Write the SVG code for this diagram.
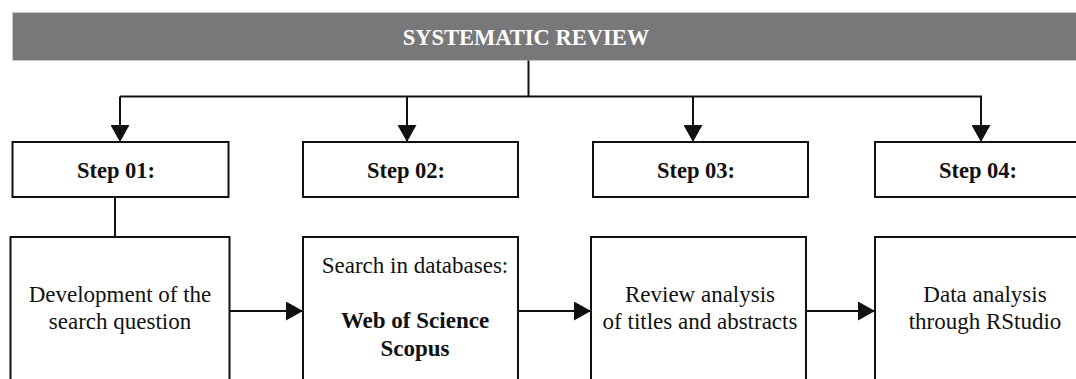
<svg xmlns="http://www.w3.org/2000/svg" width="1076" height="379" viewBox="0 0 1076 379">
  <style>
    .box { fill: #ffffff; stroke: #111111; stroke-width: 2; }
    .wire { fill: none; stroke: #111111; stroke-width: 2; }
    text { font-family: 'Liberation Serif', Tinos, 'Times New Roman', 'Nimbus Roman', 'DejaVu Serif', serif; text-anchor: middle; }
    .title { font-size: 22.5px; font-weight: bold; fill: #ffffff; }
    .step { font-size: 22.5px; font-weight: bold; fill: #111111; }
    .body { font-size: 23px; fill: #111111; }
    .body-b { font-size: 23px; font-weight: bold; fill: #111111; }
  </style>
  <defs>
    <marker id="arrow" markerUnits="userSpaceOnUse" markerWidth="18" markerHeight="19" refX="17" refY="9.5" orient="auto">
      <path d="M0,0 L17,9.5 L0,19 Z" fill="#111111"/>
    </marker>
  </defs>

  <rect width="1076" height="379" fill="#ffffff"/>

  <!-- header banner -->
  <g id="header">
    <rect x="12.5" y="12.5" width="1080" height="48" fill="#78787a" stroke="#c9c9c9" stroke-width="1"/>
    <text class="title" x="526" y="45" font-family="Liberation Serif, serif">SYSTEMATIC REVIEW</text>
  </g>

  <!-- connectors -->
  <g id="connectors">
    <path class="wire" d="M528.5,60.5 V96.5 M120,96.5 H982"/>
    <path class="wire" d="M120,96.5 V142" marker-end="url(#arrow)"/>
    <path class="wire" d="M407,96.5 V142" marker-end="url(#arrow)"/>
    <path class="wire" d="M693,96.5 V142" marker-end="url(#arrow)"/>
    <path class="wire" d="M981,96.5 V142" marker-end="url(#arrow)"/>
    <path class="wire" d="M115,197 V237"/>
    <path class="wire" d="M230,311 H303" marker-end="url(#arrow)"/>
    <path class="wire" d="M518,311 H591" marker-end="url(#arrow)"/>
    <path class="wire" d="M806,311 H875" marker-end="url(#arrow)"/>
  </g>

  <!-- step headers -->
  <g id="step01">
    <rect class="box" x="12.5" y="142" width="216" height="55"/>
    <text class="step" x="116" y="178">Step 01:</text>
  </g>
  <g id="step02">
    <rect class="box" x="303" y="142" width="215" height="55"/>
    <text class="step" x="406" y="178">Step 02:</text>
  </g>
  <g id="step03">
    <rect class="box" x="593" y="142" width="215" height="55"/>
    <text class="step" x="696" y="178">Step 03:</text>
  </g>
  <g id="step04">
    <rect class="box" x="875" y="142" width="220" height="55"/>
    <text class="step" x="978" y="178">Step 04:</text>
  </g>

  <!-- step contents -->
  <g id="content01">
    <rect class="box" x="10.5" y="237" width="219" height="160"/>
    <text class="body" x="120" y="302">Development of the</text>
    <text class="body" x="120" y="329">search question</text>
  </g>
  <g id="content02">
    <rect class="box" x="303" y="237" width="215" height="160"/>
    <text class="body" x="415" y="273">Search in databases:</text>
    <text class="body-b" x="415" y="328">Web of Science</text>
    <text class="body-b" x="415" y="356">Scopus</text>
  </g>
  <g id="content03">
    <rect class="box" x="591" y="237" width="215" height="160"/>
    <text class="body" x="700" y="302">Review analysis</text>
    <text class="body" x="700" y="329">of titles and abstracts</text>
  </g>
  <g id="content04">
    <rect class="box" x="875" y="237" width="220" height="160"/>
    <text class="body" x="985" y="302">Data analysis</text>
    <text class="body" x="985" y="329">through RStudio</text>
  </g>
</svg>
